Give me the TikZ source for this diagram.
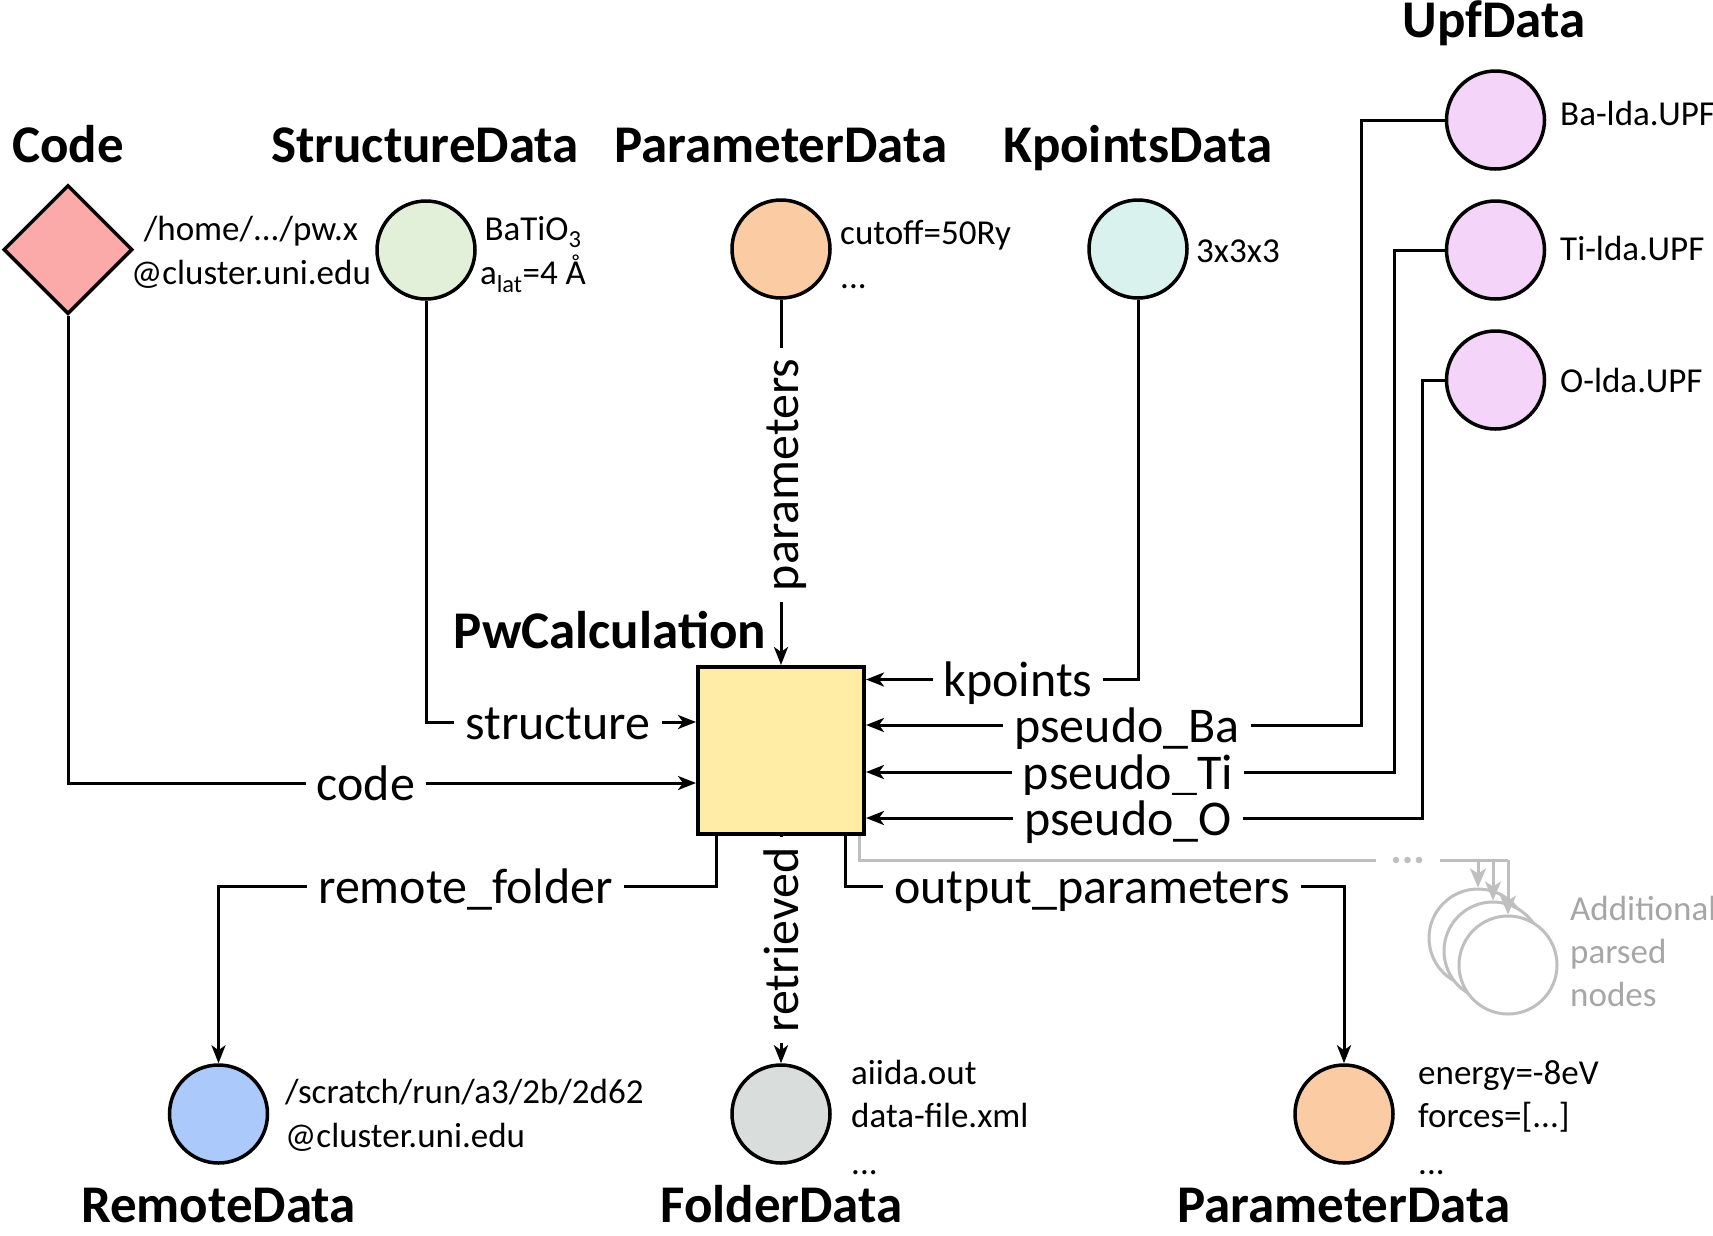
\documentclass[tikz,border=0pt]{standalone}
\usepackage{fontspec}
\setmainfont{Carlito}
\usetikzlibrary{arrows.meta,shapes.geometric}
\definecolor{codecol}{HTML}{FBA9A9}
\definecolor{structcol}{HTML}{E2F0D9}
\definecolor{paramcol}{HTML}{FBCBA4}
\definecolor{kptcol}{HTML}{DAF2EE}
\definecolor{upfcol}{HTML}{F5D4FA}
\definecolor{calccol}{HTML}{FFEDA6}
\definecolor{remotecol}{HTML}{ABC9FA}
\definecolor{foldercol}{HTML}{D9DEDC}
\definecolor{graycol}{HTML}{BFBFBF}
\definecolor{graytext}{HTML}{A6A6A6}
\begin{document}
\begin{tikzpicture}[x=1pt,y=-1pt,
  conn/.style={line width=3pt},
  arr/.style={conn,-{Stealth[length=18pt,width=14pt,inset=5pt]}},
  garr/.style={line width=3pt,draw=graycol,-{Stealth[length=19pt,width=16pt,inset=5pt]}},
  dnode/.style={circle,draw,line width=3.5pt,minimum size=98pt,inner sep=0pt},
  gnode/.style={circle,draw=graycol,fill=white,line width=3pt,minimum size=98pt,inner sep=0pt},
  ttl/.style={font=\fontsize{53}{60}\selectfont\bfseries,anchor=base,inner sep=0pt},
  lbl/.style={font=\fontsize{50}{58}\selectfont,fill=white,inner xsep=11pt,inner ysep=0pt,text height=40pt,text depth=6pt},
  info/.style={font=\fontsize{35}{44}\selectfont,inner sep=0pt},
  ginfo/.style={font=\fontsize{35}{43}\selectfont,text=graytext,anchor=base west,inner sep=0pt},
]
\useasboundingbox (0,0) rectangle (1713,1235);

% --- data nodes ---
\node[diamond,draw,fill=codecol,line width=3.5pt,minimum width=129pt,minimum height=129pt,inner sep=0pt] (code) at (68,249.5) {};
\node[dnode,fill=structcol] (struct) at (426,250) {};
\node[dnode,fill=paramcol] (param) at (781,249) {};
\node[dnode,fill=kptcol] (kpt) at (1138,249) {};
\node[dnode,fill=upfcol] (ba) at (1495.5,120) {};
\node[dnode,fill=upfcol] (ti) at (1495.5,250) {};
\node[dnode,fill=upfcol] (ox) at (1495.5,380) {};
\node[draw,fill=calccol,line width=4pt,minimum width=166pt,minimum height=167pt,inner sep=0pt] (calc) at (781,750.5) {};
\node[dnode,fill=remotecol] (remote) at (218.5,1114) {};
\node[dnode,fill=foldercol] (folder) at (781,1114) {};
\node[dnode,fill=paramcol] (pout) at (1344,1114) {};
\node[gnode] (gback) at (1478,938) {};
\node[gnode] (gmid) at (1493,951) {};
\node[gnode] (gfront) at (1508,965) {};

% --- bend coordinates ---
\coordinate (cd) at (0,783);
\coordinate (st) at (0,722);
\coordinate (kp) at (0,679.5);
\coordinate (bax) at (1361,725);
\coordinate (tix) at (1394,772);
\coordinate (oxx) at (1422,818);
\coordinate (rf) at (716,886);
\coordinate (op) at (845,886);
\coordinate (gr) at (859,860);
\coordinate (gdots) at (1376,860);
\coordinate (gres) at (1440,860);

% --- connectors ---
\draw[arr] (code.south) |- (calc.west |- cd);
\draw[arr] (struct.south) |- (calc.west |- st);
\draw[arr] (param.south) -- (calc.north);
\draw[arr] (kpt.south) |- (calc.east |- kp);
\draw[arr] (ba.west) -| (bax) -- (calc.east |- bax);
\draw[arr] (ti.west) -| (tix) -- (calc.east |- tix);
\draw[arr] (ox.west) -| (oxx) -- (calc.east |- oxx);
\draw[arr] (rf |- calc.south) -- (rf) -| (remote.north);
\draw[arr] (calc.south) -- (folder.north);
\draw[arr] (op |- calc.south) -- (op) -| (pout.north);

% gray additional outputs
\draw[line width=3pt,draw=graycol] (gr |- calc.south) -- (gr) -- (gdots);
\fill[graycol] (1396,860) circle (3.3) (1407.5,860) circle (3.3) (1419,860) circle (3.3);
\draw[line width=3pt,draw=graycol] (gres) -- (gfront.north |- gres);
\draw[garr] (gback.north |- gres) -- (gback.north);
\draw[garr] (gmid.north |- gres) -- (gmid.north);
\draw[garr] (gfront.north |- gres) -- (gfront.north);

% --- connector labels ---
\node[lbl] (lcode) at (366,783) {code};
\node[lbl] (lstruct) at (558,722) {structure};
\node[lbl,rotate=90] (lparam) at (781,475) {parameters};
\node[lbl] (lkpt) at (1018,679.5) {kpoints};
\node[lbl] (lba) at (1127,725) {pseudo\_Ba};
\node[lbl] (lti) at (1128,772) {pseudo\_Ti};
\node[lbl] (lox) at (1128,818) {pseudo\_O};
\node[lbl] (lrf) at (465.5,886) {remote\_folder};
\node[lbl,rotate=90] (lret) at (781,940) {retrieved};
\node[lbl] (lop) at (1092,886) {output\_parameters};

% --- titles ---
\node[ttl] (tcode) at (68,162) {Code};
\node[ttl] (tstruct) at (425,162) {StructureData};
\node[ttl] (tparam) at (781,162) {ParameterData};
\node[ttl] (tkpt) at (1138,162) {KpointsData};
\node[ttl] (tupf) at (1494,37) {UpfData};
\node[ttl] (tcalc) at (610,648) {PwCalculation};
\node[ttl] (tremote) at (218.5,1222) {RemoteData};
\node[ttl] (tfolder) at (781.5,1222) {FolderData};
\node[ttl] (tpout) at (1344,1222) {ParameterData};

% --- info texts ---
\node[info,anchor=base] (icode1) at (251,240) {/home/.../pw.x};
\node[info,anchor=base] (icode2) at (251,284) {@cluster.uni.edu};
\node[info,anchor=base] (istruct1) at (533,240) {BaTiO\textsubscript{3}};
\node[info,anchor=base] (istruct2) at (533,284) {a\textsubscript{lat}=4 Å};
\node[info,anchor=base west] (iparam1) at (840,244) {cutoff=50Ry};
\node[info,anchor=base west] (iparam2) at (840,288) {...};
\node[info,anchor=base west] (ikpt) at (1196,262) {3x3x3};
\node[info,anchor=base west] (iba) at (1560,125) {Ba-lda.UPF};
\node[info,anchor=base west] (iti) at (1560,260) {Ti-lda.UPF};
\node[info,anchor=base west] (iox) at (1560,392) {O-lda.UPF};
\node[info,anchor=base west] (irem1) at (285,1103) {/scratch/run/a3/2b/2d62};
\node[info,anchor=base west] (irem2) at (285,1147) {@cluster.uni.edu};
\node[info,anchor=base west] (ifol1) at (851,1084) {aiida.out};
\node[info,anchor=base west] (ifol2) at (851,1127.5) {data-file.xml};
\node[info,anchor=base west] (ifol3) at (851,1174) {...};
\node[info,anchor=base west] (ipo1) at (1418,1084) {energy=-8eV};
\node[info,anchor=base west] (ipo2) at (1418,1127.5) {forces=[...]};
\node[info,anchor=base west] (ipo3) at (1418,1174) {...};
\node[ginfo] (g1) at (1570,920) {Additional};
\node[ginfo] (g2) at (1570,963) {parsed};
\node[ginfo] (g3) at (1570,1006) {nodes};
\end{tikzpicture}
\end{document}
